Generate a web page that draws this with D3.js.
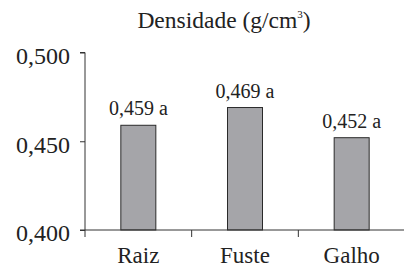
<!DOCTYPE html>
<html>
<head>
<meta charset="utf-8">
<script src="https://cdn.jsdelivr.net/npm/d3@7"></script>
<style>
  body { margin: 0; background: #fff; }
</style>
</head>
<body>
<div id="chart"></div>
<script>
const categories = ["Raiz", "Fuste", "Galho"];
const values = [0.459, 0.469, 0.452];
const letters = ["a", "a", "a"];
const yTicks = [0.400, 0.450, 0.500];

const width = 404, height = 268;
const serif = "'Liberation Serif', 'Times New Roman', serif";
const fmt = v => d3.format(".3f")(v).replace(".", ",");

let svg = d3.select("#chart").append("svg")
	.attr("width", width)
	.attr("height", height)
	.style("font-family", serif);

let x = d3.scaleBand()
	.domain(categories)
	.range([85, 405]);
let y = d3.scaleLinear()
	.domain([0.4, 0.5])
	.range([230, 52.5]);

// title
let title = svg.append("text")
	.attr("x", 224)
	.attr("y", 28)
	.attr("text-anchor", "middle")
	.attr("fill", "#222")
	.style("font-family", serif)
	.style("font-size", "23.5px");
title.append("tspan").text("Densidade (g/cm");
title.append("tspan").text("3").style("font-size", "11px").attr("dy", -10);
title.append("tspan").text(")").attr("dy", 10);

// bars
const barW = 35;
svg.selectAll(".bar")
	.data(values)
	.enter()
	.append("rect")
	.attr("class", "bar")
	.attr("x", (d, i) => x(categories[i]) + x.bandwidth()/2 - barW/2)
	.attr("y", d => y(d))
	.attr("width", barW)
	.attr("height", d => y(0.4) - y(d))
	.attr("fill", "#a5a5a9")
	.attr("stroke", "#2a2a2a")
	.attr("stroke-width", 1);

svg.selectAll(".lbl")
	.data(values)
	.enter()
	.append("text")
	.attr("class", "lbl")
	.attr("x", (d, i) => x(categories[i]) + x.bandwidth()/2)
	.attr("y", d => y(d) - 10)
	.attr("text-anchor", "middle")
	.attr("fill", "#222")
	.style("font-family", serif)
	.style("font-size", "20px")
	.text((d, i) => fmt(d) + " " + letters[i]);

// y axis
let gY = svg.append("g")
	.attr("transform", "translate(85,0)")
	.call(d3.axisLeft(y).tickValues(yTicks).tickSize(5).tickPadding(10).tickFormat(fmt));
gY.attr("font-family", null);
gY.select(".domain").attr("d", "M-5," + y(0.5) + "H0V" + y(0.4)).attr("stroke", "#333");
gY.selectAll(".tick line").attr("stroke", "#333");
gY.selectAll(".tick text")
	.style("font-size", "24px")
	.style("font-family", serif)
	.attr("fill", "#222")
	.attr("dy", "0.45em");

// x axis
let gX = svg.append("g")
	.attr("transform", "translate(0," + y(0.4) + ")")
	.call(d3.axisBottom(x).tickSize(0).tickPadding(17));
gX.attr("font-family", null);
gX.select(".domain").attr("d", "M80,0H404").attr("stroke", "#333");
gX.selectAll(".tick text")
	.style("font-size", "23px")
	.style("font-family", serif)
	.attr("fill", "#222");
gX.selectAll(".sep")
	.data(categories)
	.enter()
	.append("line")
	.attr("class", "sep")
	.attr("x1", d => x(d)).attr("x2", d => x(d))
	.attr("y1", 0).attr("y2", 7)
	.attr("stroke", "#333");
</script>
</body>
</html>
